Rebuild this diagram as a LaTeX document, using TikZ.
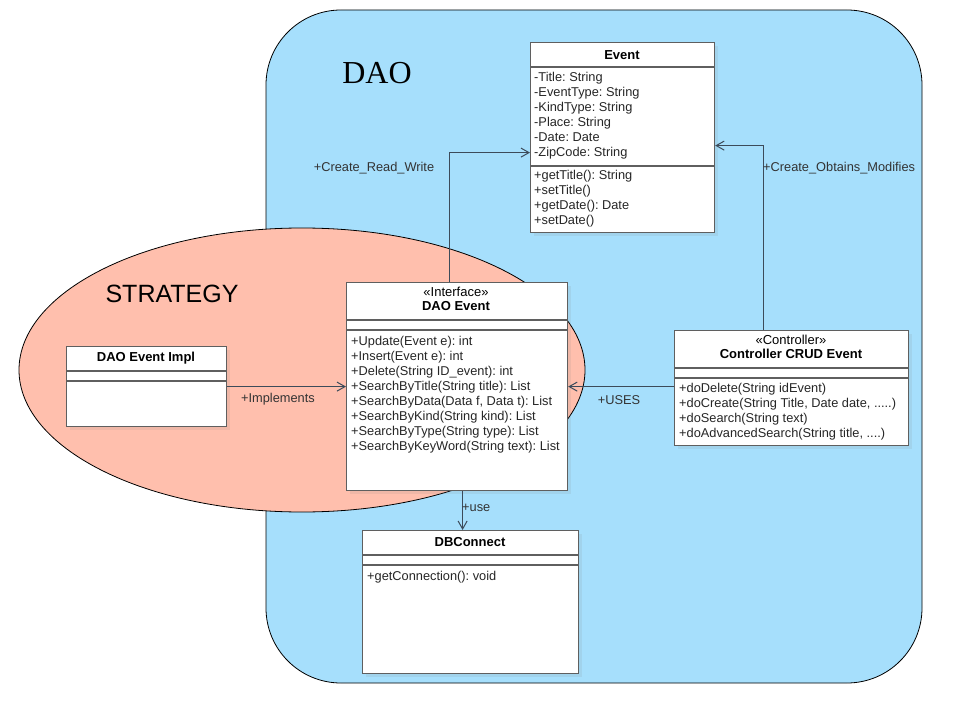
\documentclass[tikz,border=0pt]{standalone}
\usepackage{fontspec}
\setmainfont{Liberation Sans}
\newfontfamily\daoserif{Liberation Serif}
\usepackage{xcolor}
\frenchspacing
\definecolor{daoblue}{RGB}{166,223,252}
\definecolor{strategy}{RGB}{255,191,173}
\definecolor{boxline}{RGB}{95,95,95}
\definecolor{linkline}{RGB}{60,75,90}
\usetikzlibrary{arrows.meta}
\usetikzlibrary{shadows}

\tikzset{
  umlbox/.style={draw=boxline, fill=white, line width=1.2pt, inner sep=0pt, anchor=north west,
    drop shadow={opacity=0.12, shadow xshift=3pt, shadow yshift=-3pt}},
  divider/.style={draw=boxline, line width=1.2pt},
  member/.style={anchor=north west, inner sep=0pt, align=left, text=black!85, font=\fontsize{12.8}{15}\selectfont},
  classname/.style={inner sep=0pt, align=center, font=\fontsize{13}{14}\selectfont},
  link/.style={draw=linkline, line width=1pt, -{Straight Barb[length=8pt,width=9pt]}},
  linklabel/.style={inner sep=0pt, text=black!80, font=\fontsize{12.8}{15}\selectfont}
}

\begin{document}
\begin{tikzpicture}[x=1pt, y=-1pt]
    \useasboundingbox (0,0) rectangle (962,722);

    % package areas
    \draw[fill=daoblue, line width=0.8pt, rounded corners=75pt] (266,10) rectangle (922,683);
    \draw[fill=strategy, line width=0.8pt] (302,370) ellipse [x radius=283pt, y radius=142pt];
    \node[inner sep=0pt, font=\daoserif\fontsize{32}{36}\selectfont] (dao-name) at (377,73) {DAO};
    \node[inner sep=0pt, font=\fontsize{25}{28}\selectfont] (strategy-name) at (172,294) {STRATEGY};

    % Event
    \node[umlbox, minimum width=184pt, minimum height=190pt] (event) at (530,42) {};
    \draw[divider] ([yshift=-25pt]event.north west) -- ([yshift=-25pt]event.north east);
    \draw[divider] ([yshift=-124pt]event.north west) -- ([yshift=-124pt]event.north east);
    \node[classname] (event-name) at (622,55) {\textbf{Event}};
    \node[member] (event-attr) at (534,72.5) {-Title: String\\-EventType: String\\-KindType: String\\-Place: String\\-Date: Date\\-ZipCode: String};
    \node[member] (event-ops) at (534,170.5) {+getTitle(): String\\+setTitle()\\+getDate(): Date\\+setDate()};

    % DAO Event
    \node[umlbox, minimum width=221pt, minimum height=208pt] (daoevent) at (346,282) {};
    \draw[divider] ([yshift=-38pt]daoevent.north west) -- ([yshift=-38pt]daoevent.north east);
    \draw[divider] ([yshift=-48pt]daoevent.north west) -- ([yshift=-48pt]daoevent.north east);
    \node[classname] (daoevent-name) at (456,299) {«Interface»\\\textbf{DAO Event}};
    \node[member] (daoevent-ops) at (351,336.5) {+Update(Event e): int\\+Insert(Event e): int\\+Delete(String ID\_event): int\\+SearchByTitle(String title): List\\+SearchByData(Data f, Data t): List\\+SearchByKind(String kind): List\\+SearchByType(String type): List\\+SearchByKeyWord(String text): List};

    % Controller CRUD Event
    \node[umlbox, minimum width=234pt, minimum height=115pt] (controller) at (674,330) {};
    \draw[divider] ([yshift=-38pt]controller.north west) -- ([yshift=-38pt]controller.north east);
    \draw[divider] ([yshift=-48pt]controller.north west) -- ([yshift=-48pt]controller.north east);
    \node[classname] (controller-name) at (791,347) {«Controller»\\\textbf{Controller CRUD Event}};
    \node[member] (controller-ops) at (679,383.5) {+doDelete(String idEvent)\\+doCreate(String Title, Date date, .....)\\+doSearch(String text)\\+doAdvancedSearch(String title, ....)};

    % DAO Event Impl
    \node[umlbox, minimum width=160pt, minimum height=80pt] (impl) at (66,346) {};
    \draw[divider] ([yshift=-25pt]impl.north west) -- ([yshift=-25pt]impl.north east);
    \draw[divider] ([yshift=-35pt]impl.north west) -- ([yshift=-35pt]impl.north east);
    \node[classname] (impl-name) at (146,358) {\textbf{DAO Event Impl}};

    % DBConnect
    \node[umlbox, minimum width=216pt, minimum height=143pt] (dbconnect) at (362,530) {};
    \draw[divider] ([yshift=-25pt]dbconnect.north west) -- ([yshift=-25pt]dbconnect.north east);
    \draw[divider] ([yshift=-35pt]dbconnect.north west) -- ([yshift=-35pt]dbconnect.north east);
    \node[classname] (dbconnect-name) at (470,542) {\textbf{DBConnect}};
    \node[member] (dbconnect-ops) at (367,571.5) {+getConnection(): void};

    % relations
    \draw[link] (impl.east) -- (daoevent.west);
    \draw[link] ([xshift=-7.5pt]daoevent.north) |- ([yshift=-15pt]event.west);
    \draw[link] ([xshift=-28pt]controller.north) |- ([yshift=-8pt]event.east);
    \draw[link] ([yshift=1.5pt]controller.west) -- ([yshift=1.5pt]controller.west -| daoevent.east);
    \draw[link] ([xshift=5.5pt]daoevent.south) -- ([xshift=5.5pt]daoevent.south |- dbconnect.north);

    \node[linklabel] (implements-label) at (278,399) {+Implements};
    \node[linklabel] (crw-label) at (374,168) {+Create\_Read\_Write};
    \node[linklabel, anchor=west] (com-label) at (763,168) {+Create\_Obtains\_Modifies};
    \node[linklabel] (uses-label) at (619,400) {+USES};
    \node[linklabel, anchor=west] (use-label) at (462,508) {+use};

\end{tikzpicture}
\end{document}
